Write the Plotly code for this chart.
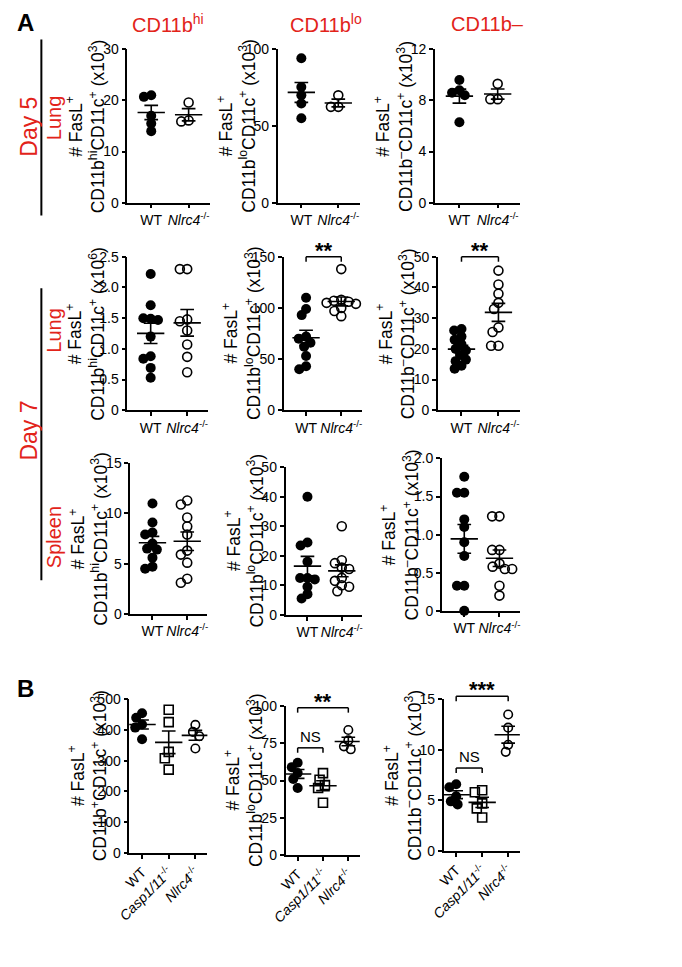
import numpy as np
import plotly.graph_objects as go

W, H = 682, 967

# ---------------- data ----------------
cats2 = ["WT", "<i>Nlrc4</i><sup>-/-</sup>"]
cats3 = ["WT", "<i>Casp1/11</i><sup>-/-</sup>", "<i>Nlrc4</i><sup>-/-</sup>"]

# Day 5 lung
d5_hi_wt = [21.0, 20.7, 17.0, 15.5, 14.0]
d5_hi_ko = [19.6, 16.1, 15.9]
d5_lo_wt = [94.2, 75.4, 70.1, 64.7, 55.1]
d5_lo_ko = [70.0, 62.5, 62.5]
d5_neg_wt = [9.6, 8.8, 8.6, 8.4, 6.3]
d5_neg_ko = [9.3, 8.1, 8.1]
# Day 7 lung
d7l_hi_wt = [2.22, 1.71, 1.49, 1.50, 1.47, 1.20, 0.88, 0.84, 0.69, 0.53]
d7l_hi_ko = [2.30, 2.30, 1.48, 1.45, 1.30, 1.07, 0.87, 0.62]
d7l_lo_wt = [110, 99, 93, 72, 70, 66, 62, 53, 43, 40]
d7l_lo_ko = [138, 108, 107, 106, 105, 104, 100, 97, 92]
d7l_neg_wt = [26.5, 26, 24, 23, 21.5, 20, 19.5, 18, 16.5, 16, 14.5, 13.5]
d7l_neg_ko = [45.5, 41, 38, 35, 33, 27, 25.5, 21, 21]
# Day 7 spleen
d7s_hi_wt = [11.0, 9.1, 8.1, 7.9, 7.0, 6.5, 6.4, 5.6, 4.7, 4.5]
d7s_hi_ko = [11.3, 10.9, 9.6, 8.7, 7.9, 6.3, 5.9, 5.1, 3.5, 3.1]
d7s_lo_wt = [40, 24.5, 23.5, 18, 12.5, 12.5, 12, 9.5, 7, 5.5]
d7s_lo_ko = [30, 18.5, 17.5, 16, 15.5, 12.5, 11.5, 10, 9.5, 8]
d7s_neg_wt = [1.76, 1.55, 1.55, 1.20, 1.10, 0.90, 0.72, 0.33, 0.33, 0.0]
d7s_neg_ko = [1.24, 1.24, 0.80, 0.80, 0.62, 0.58, 0.55, 0.55, 0.33, 0.20]
# B
b_pos_wt = [455, 440, 418, 408, 370]
b_pos_casp = [466, 426, 329, 308, 271]
b_pos_ko = [417, 394, 380, 340]
b_lo_wt = [62, 59, 55, 51, 45]
b_lo_casp = [55, 50.5, 47, 45, 35]
b_lo_ko = [84, 77, 73, 71]
b_neg_wt = [6.6, 6.3, 5.4, 4.9, 4.6]
b_neg_casp = [6.0, 5.8, 4.7, 4.2, 3.3]
b_neg_ko = [13.5, 12.2, 10.5, 9.8]

yt_hi3 = [0, 10, 20, 30]
yt_lo3 = [0, 50, 100]
yt_neg3 = [0, 4, 8, 12]
yt_hi6 = [0, 0.5, 1.0, 1.5, 2.0, 2.5]
yt_lo150 = [0, 50, 100, 150]
yt_neg50 = [0, 10, 20, 30, 40, 50]
yt_15 = [0, 5, 10, 15]
yt_50 = [0, 10, 20, 30, 40, 50]
yt_2 = [0, 0.5, 1.0, 1.5, 2.0]
yt_500 = [0, 100, 200, 300, 400, 500]
yt_100 = [0, 25, 50, 75, 100]

# significance: (panel index, group i, group j, level, label)
stats = [
    (4, 0, 1, 150, "**"),
    (5, 0, 1, 50, "**"),
    (10, 0, 1, 72, "NS"),
    (10, 0, 2, 99, "**"),
    (11, 0, 1, 8.2, "NS"),
    (11, 0, 2, 15.3, "***"),
]

def ttl(pop, exp="3"):
    return ("# FasL<sup>+</sup><br>CD11b<sup>%s</sup>CD11c<sup>+</sup> (x10<sup>%s</sup>)" % (pop, exp))

panels = [
    dict(groups=[d5_hi_wt, d5_hi_ko], cats=cats2, ymax=30, yt=yt_hi3, title=ttl("hi"), g=(115, 200, 42, 198)),
    dict(groups=[d5_lo_wt, d5_lo_ko], cats=cats2, ymax=100, yt=yt_lo3, title=ttl("lo"), g=(269, 353, 42, 198)),
    dict(groups=[d5_neg_wt, d5_neg_ko], cats=cats2, ymax=12, yt=yt_neg3, title=ttl("–"), g=(430, 517, 42, 198)),
    dict(groups=[d7l_hi_wt, d7l_hi_ko], cats=cats2, ymax=2.5, yt=yt_hi6, title=ttl("hi", "6"), g=(115, 198, 253, 409),
         ytext=["0", "0.5", "1.0", "1.5", "2.0", "2.5"]),
    dict(groups=[d7l_lo_wt, d7l_lo_ko], cats=cats2, ymax=150, yt=yt_lo150, title=ttl("lo"), g=(275, 355, 253, 409)),
    dict(groups=[d7l_neg_wt, d7l_neg_ko], cats=cats2, ymax=50, yt=yt_neg50, title=ttl("–"), g=(433, 517, 253, 409)),
    dict(groups=[d7s_hi_wt, d7s_hi_ko], cats=cats2, ymax=15, yt=yt_15, title=ttl("hi"), g=(118, 197, 463, 616)),
    dict(groups=[d7s_lo_wt, d7s_lo_ko], cats=cats2, ymax=50, yt=yt_50, title=ttl("lo"), g=(277, 355, 467, 617)),
    dict(groups=[d7s_neg_wt, d7s_neg_ko], cats=cats2, ymax=2.0, yt=yt_2, title=ttl("–"), g=(437, 517, 458, 613),
         ytext=["0", "0.5", "1.0", "1.5", "2.0"]),
    dict(groups=[b_pos_wt, b_pos_casp, b_pos_ko], cats=cats3, ymax=500, yt=yt_500, title=ttl("+"), g=(117, 197, 703, 859)),
    dict(groups=[b_lo_wt, b_lo_casp, b_lo_ko], cats=cats3, ymax=100, yt=yt_100, title=ttl("lo"), g=(277, 353, 710, 861)),
    dict(groups=[b_neg_wt, b_neg_casp, b_neg_ko], cats=cats3, ymax=15, yt=yt_15, title=ttl("–"), g=(439, 517, 703, 857)),
]

RED = "#e2231a"
FAM = "Liberation Sans, Arial, sans-serif"
TICKFONT = dict(family=FAM, size=14, color="black")
TITLEFONT = dict(family=FAM, size=17.5, color="black")

def fx(px):
    return px / W

def fy(py):
    return 1 - py / H

def swarm(vals, ppu, d):
    placed = []
    offs = []
    for v in vals:
        y = v * ppu
        best = None
        k = 0
        while best is None:
            for sgn in ((0,) if k == 0 else (-1, 1)):
                off = sgn * k * 0.5
                if all((off - a) ** 2 + (y - b) ** 2 >= d * d for a, b in placed):
                    best = off
                    break
            k += 1
        placed.append((best, y))
        offs.append(best)
    return offs

fig = go.Figure()
layout = dict(width=W, height=H, margin=dict(l=0, r=0, t=0, b=0), plot_bgcolor="white",
              paper_bgcolor="white", showlegend=False, annotations=[], shapes=[])

styles2 = [dict(symbol="circle", size=10, lw=0),
           dict(symbol="circle-open", size=9, lw=1.6)]
styles3 = [dict(symbol="circle", size=10, lw=0),
           dict(symbol="square-open", size=9, lw=1.6),
           dict(symbol="circle-open", size=8.5, lw=1.6)]

axinfo = []
for k, p in enumerate(panels):
    n = k + 1
    xa = "x" if n == 1 else "x%d" % n
    ya = "y" if n == 1 else "y%d" % n
    L, R, T, B = p["g"]
    ng = len(p["groups"])
    xr = [-0.64, 1.58] if ng == 2 else [-0.48, 2.45]
    ppx = (R - L) / (xr[1] - xr[0])
    ppy = (B - T) / p["ymax"]
    axinfo.append((xa, ya, xr, ppx, ppy))
    layout["xaxis" if n == 1 else "xaxis%d" % n] = dict(
        domain=[fx(L), fx(R)], range=xr, anchor=ya, showline=True, linecolor="black", linewidth=1.5,
        ticks="outside", ticklen=4, tickwidth=1.5, tickcolor="black", showgrid=False, zeroline=False,
        tickvals=list(range(ng)), ticktext=p["cats"], tickfont=TICKFONT, fixedrange=True,
        tickangle=-45 if ng == 3 else 0)
    layout["yaxis" if n == 1 else "yaxis%d" % n] = dict(
        domain=[fy(B), fy(T)], range=[0, p["ymax"]], anchor=xa, showline=True, linecolor="black", linewidth=1.5,
        ticks="outside", ticklen=4, tickwidth=1.5, tickcolor="black", showgrid=False, zeroline=False,
        tickvals=p["yt"], ticktext=p.get("ytext", [("%g" % v) for v in p["yt"]]), tickfont=TICKFONT,
        fixedrange=True)
    styles = styles2 if ng == 2 else styles3
    for gi, vals in enumerate(p["groups"]):
        vals = np.array(vals, dtype=float)
        offs = swarm(vals, ppy, 7.5)
        xs = [gi + o / ppx for o in offs]
        st = styles[gi]
        fig.add_trace(go.Scatter(x=xs, y=vals, mode="markers", xaxis=xa, yaxis=ya, cliponaxis=False,
                                 marker=dict(symbol=st["symbol"], color="black", size=st["size"],
                                             line=dict(color="black", width=st["lw"])),
                                 hoverinfo="skip"))
        m = vals.mean()
        s = vals.std(ddof=1) / np.sqrt(len(vals))
        hw = 14 / ppx
        cw = 7 / ppx
        lx = [gi - hw, gi + hw, None, gi, gi, None, gi - cw, gi + cw, None, gi - cw, gi + cw]
        ly = [m, m, None, m - s, m + s, None, m + s, m + s, None, m - s, m - s]
        fig.add_trace(go.Scatter(x=lx, y=ly, mode="lines", xaxis=xa, yaxis=ya, cliponaxis=False,
                                 line=dict(color="black", width=1.6), hoverinfo="skip"))
    # y-axis title
    layout["annotations"].append(dict(
        text=p["title"], x=fx(L - 43), y=fy((T + B) / 2), xref="paper", yref="paper", textangle=-90,
        xanchor="center", yanchor="middle", showarrow=False, font=TITLEFONT))

# significance brackets (positions converted through each subplot's own axis range)
for (pi, i, j, lvl, lab) in stats:
    xa, ya, xr, ppx, ppy = axinfo[pi]
    ymax = panels[pi]["ymax"]
    fxi = (i - xr[0]) / (xr[1] - xr[0])
    fxj = (j - xr[0]) / (xr[1] - xr[0])
    fl = lvl / ymax
    fh = 5 / ppy / ymax
    xd, yd = xa + " domain", ya + " domain"
    for (x0, y0, x1, y1) in [(fxi, fl, fxj, fl), (fxi, fl - fh, fxi, fl), (fxj, fl - fh, fxj, fl)]:
        layout["shapes"].append(dict(type="line", xref=xd, yref=yd, x0=x0, y0=y0, x1=x1, y1=y1,
                                     line=dict(color="black", width=1.5)))
    if lab == "NS":
        layout["annotations"].append(dict(text=lab, x=(fxi + fxj) / 2, y=fl, xref=xd, yref=yd, yanchor="bottom",
                                          yshift=1, showarrow=False,
                                          font=dict(family=FAM, size=15, color="black")))
    else:
        layout["annotations"].append(dict(text="<b>%s</b>" % lab, x=(fxi + fxj) / 2, y=fl, xref=xd, yref=yd,
                                          yanchor="bottom", yshift=-8, showarrow=False,
                                          font=dict(family=FAM, size=22, color="black")))

# figure labels
def add_text(txt, x, y, size, color="black", angle=0, bold=False):
    layout["annotations"].append(dict(text=("<b>%s</b>" % txt) if bold else txt, x=fx(x), y=fy(y),
                                      xref="paper", yref="paper", xanchor="center", yanchor="middle",
                                      textangle=angle, showarrow=False,
                                      font=dict(family=FAM, size=size, color=color)))

add_text("A", 11, 15, 24, bold=True)
add_text("B", 11, 692, 24, bold=True)
add_text("CD11b<sup>hi</sup>", 157, 16, 20, RED)
add_text("CD11b<sup>lo</sup>", 318, 16, 20, RED)
add_text("CD11b–", 484, 16, 20, RED)
add_text("Day 5", 14, 121, 23, RED, -90)
add_text("Lung", 40, 112, 20, RED, -90)
add_text("Day 7", 14, 430, 23, RED, -90)
add_text("Lung", 40, 328, 20, RED, -90)
add_text("Spleen", 40, 538, 20, RED, -90)

for (y0, y1) in [(32, 211), (285, 582)]:
    layout["shapes"].append(dict(type="line", xref="paper", yref="paper", x0=fx(27), x1=fx(27),
                                 y0=fy(y0), y1=fy(y1), line=dict(color="black", width=2)))

fig.update_layout(**layout)
fig.write_html("out.html", config={"displayModeBar": False},
               post_script="document.body.style.margin='0px';document.body.style.overflow='hidden';")
